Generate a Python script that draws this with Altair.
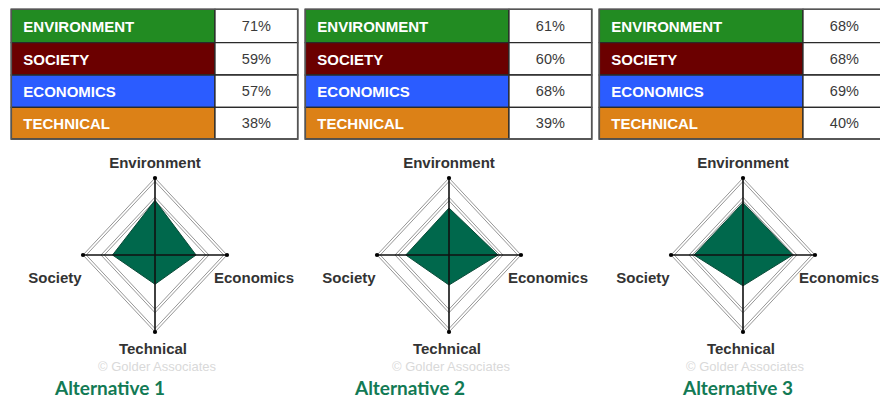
import altair as alt
import pandas as pd

# ---- data ----
alternatives = ["Alternative 1", "Alternative 2", "Alternative 3"]
criteria = ["ENVIRONMENT", "SOCIETY", "ECONOMICS", "TECHNICAL"]
axis_names = ["Environment", "Society", "Economics", "Technical"]
environment = [71, 61, 68]
society = [59, 60, 68]
economics = [57, 68, 69]
technical = [38, 39, 40]
crit_colors = ["#228b22", "#6b0000", "#2b5cff", "#dc8117"]

# ---- layout (pixel units of the page) ----
PANEL_DX = 294
TBL_X0, TBL_XM, TBL_X1 = 11.3, 215, 297.7
ROW_Y = [9.3, 42.7, 75, 107.3, 139]
CX, CY, RH, RV = 155, 255, 72, 77
ALT_LABEL_X = [110, 410, 738]
ECON_DX = [99, 99, 96]

values = [environment, society, economics, technical]
dirs = {"Environment": (0, -1), "Society": (-1, 0), "Economics": (1, 0), "Technical": (0, 1)}
ring_order = ["Environment", "Economics", "Technical", "Society", "Environment"]

cells, texts, pcts, polys, rings, axes, tips, labels, alts = [], [], [], [], [], [], [], [], []
for p, alt_name in enumerate(alternatives):
    dx = p * PANEL_DX
    for r, crit in enumerate(criteria):
        v = values[r][p]
        cells.append(dict(x=TBL_X0 + dx, x2=TBL_XM + dx, y=ROW_Y[r], y2=ROW_Y[r + 1], c=crit_colors[r]))
        cells.append(dict(x=TBL_XM + dx, x2=TBL_X1 + dx, y=ROW_Y[r], y2=ROW_Y[r + 1], c="#ffffff"))
        ym = (ROW_Y[r] + ROW_Y[r + 1]) / 2 + 1
        texts.append(dict(x=TBL_X0 + dx + 12, y=ym, t=crit))
        pcts.append(dict(x=(TBL_XM + TBL_X1) / 2 + dx, y=ym, t=f"{v}%"))
    cx = CX + dx
    vals = dict(zip(axis_names, [values[i][p] for i in range(4)]))
    for i, nm in enumerate(ring_order):
        ux, uy = dirs[nm]
        polys.append(dict(g=f"p{p}", o=i, x=cx + ux * RH * vals[nm] / 100, y=CY + uy * RV * vals[nm] / 100))
        for k, s in enumerate([1.0, 0.955, 0.75, 0.705]):
            rings.append(dict(g=f"r{p}_{k}", o=i, x=cx + ux * RH * s, y=CY + uy * RV * s))
    axes.append(dict(x=cx, x2=cx, y=CY - RV, y2=CY + RV))
    axes.append(dict(x=cx - RH, x2=cx + RH, y=CY, y2=CY))
    for nm in axis_names:
        ux, uy = dirs[nm]
        tips.append(dict(x=cx + ux * RH, y=CY + uy * RV))
    labels.append(dict(x=cx, y=163, t="Environment"))
    labels.append(dict(x=cx - 100, y=278, t="Society"))
    labels.append(dict(x=cx + ECON_DX[p], y=278, t="Economics"))
    labels.append(dict(x=cx - 2, y=349, t="Technical"))
    alts.append(dict(x=ALT_LABEL_X[p], y=394.5, t=alt_name))

W, H = 872, 392
xs = alt.Scale(domain=[8, 8 + W])
ys = alt.Scale(domain=[8, 8 + H], reverse=True)
X = lambda f="x": alt.X(f"{f}:Q", scale=xs, axis=None)
Y = lambda f="y": alt.Y(f"{f}:Q", scale=ys, axis=None)

cell_layer = alt.Chart(pd.DataFrame(cells)).mark_rect(stroke="#2a2a2a", strokeWidth=1.3).encode(
    x=X(), x2="x2:Q", y=Y(), y2="y2:Q", fill=alt.Fill("c:N", scale=None))
outline = alt.Chart(pd.DataFrame([dict(x=TBL_X0 + p * PANEL_DX, x2=TBL_X1 + p * PANEL_DX, y=ROW_Y[0], y2=ROW_Y[-1]) for p in range(3)])).mark_rect(
    fill=None, stroke="#555555", strokeWidth=1.6).encode(x=X(), x2="x2:Q", y=Y(), y2="y2:Q")
crit_text = alt.Chart(pd.DataFrame(texts)).mark_text(
    align="left", baseline="middle", font="Liberation Sans", fontWeight="bold", fontSize=15, color="white").encode(
    x=X(), y=Y(), text="t:N")
pct_text = alt.Chart(pd.DataFrame(pcts)).mark_text(
    align="center", baseline="middle", font="Liberation Sans", fontSize=14.5, color="#3a3a3a").encode(
    x=X(), y=Y(), text="t:N")

ring_layer = alt.Chart(pd.DataFrame(rings)).mark_line(stroke="#8a8a8a", strokeWidth=0.9).encode(
    x=X(), y=Y(), detail="g:N", order="o:Q")
poly_layer = alt.Chart(pd.DataFrame(polys)).mark_line(
    fill="#00684c", stroke="#0b4a38", strokeWidth=1, fillOpacity=1).encode(
    x=X(), y=Y(), detail="g:N", order="o:Q")
axis_layer = alt.Chart(pd.DataFrame(axes)).mark_rule(color="#111111", strokeWidth=1.6).encode(
    x=X(), x2="x2:Q", y=Y(), y2="y2:Q")
tip_layer = alt.Chart(pd.DataFrame(tips)).mark_point(filled=True, color="#000000", size=18, opacity=1).encode(
    x=X(), y=Y())
label_layer = alt.Chart(pd.DataFrame(labels)).mark_text(
    align="center", baseline="middle", font="Liberation Sans", fontWeight="bold", fontSize=15, color="#333333").encode(
    x=X(), y=Y(), text="t:N")
copy_layer = alt.Chart(pd.DataFrame([dict(x=CX + 2 + p * PANEL_DX, y=367) for p in range(3)])).mark_text(
    align="center", baseline="middle", font="Liberation Sans", fontSize=13, color="#d9d9d9",
    text="© Golder Associates").encode(x=X(), y=Y())
alt_layer = alt.Chart(pd.DataFrame(alts)).mark_text(
    align="center", baseline="alphabetic", font="Lato", fontWeight="bold", fontSize=19, color="#127a55").encode(
    x=X(), y=Y(), text="t:N")

chart = alt.layer(
    cell_layer, outline, crit_text, pct_text,
    ring_layer, poly_layer, axis_layer, tip_layer, label_layer, copy_layer, alt_layer
).properties(width=W, height=H, padding=0, autosize=alt.AutoSizeParams(type="none"), background="white"
).configure_view(stroke=None)

chart.save("out.html", embed_options={"renderer": "svg", "actions": False})
